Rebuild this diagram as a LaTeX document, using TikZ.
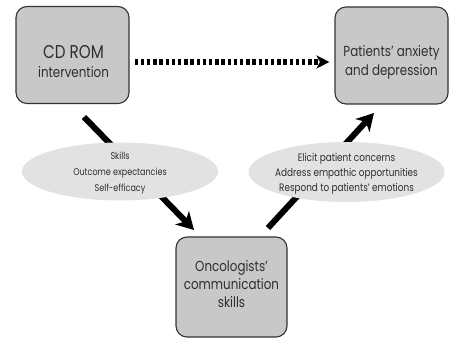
\documentclass[tikz,border=0pt]{standalone}
\usepackage{fontspec}
\setmainfont{Poppins}[FakeStretch=0.82]
\usetikzlibrary{arrows.meta,shapes.geometric,calc}
\definecolor{boxfill}{HTML}{C8C8C8}
\definecolor{ellfill}{HTML}{E2E2E2}
\definecolor{txt}{HTML}{2E2E2E}
\begin{document}
\begin{tikzpicture}[x=1pt,y=-1pt,
  boxnode/.style={draw=black!80,line width=1.1pt,fill=boxfill,rounded corners=11pt,
    minimum width=113pt,minimum height=97pt,inner sep=0pt},
  boxtext/.style={align=center,text=txt,inner sep=0pt},
  ellnode/.style={ellipse,fill=ellfill,minimum width=196pt,minimum height=58pt,
    inner sep=0pt},
  elltext/.style={align=center,text=txt,inner sep=0pt},
  bigarrow/.style={line width=6pt,-{Stealth[length=17pt,width=19pt,inset=5pt]}},
  dotarrow/.style={line width=5.5pt,dash pattern=on 3.5pt off 2.7pt,
    -{Stealth[length=13pt,width=13pt,inset=3.5pt]}}]
\useasboundingbox (0,0) rectangle (452,339);
\fill[white] (0,0) rectangle (452,339);
% boxes
\node[boxnode] (cd) at (72.5,55) {};
\node[boxtext,font=\fontsize{14.5}{19}\selectfont] (cdt) at ($(cd)+(1,6.5)$) {\fontsize{18.5}{19}\selectfont CD ROM\\intervention};
\node[boxnode] (pat) at (391.5,55.5) {};
\node[boxtext,font=\fontsize{14.5}{19}\selectfont] (patt) at ($(pat)+(0,6.5)$) {Patients' anxiety\\and depression};
\node[boxnode,minimum width=111pt,minimum height=100pt] (onc) at (231.5,287) {};
\node[boxtext,font=\fontsize{14.5}{18}\selectfont] (onct) at ($(onc)+(0,-3)$) {Oncologists'\\communication\\skills};
% connector end points
\coordinate (l1) at (84,117);
\coordinate (l2) at (194,230);
\coordinate (r1) at (268,228);
\coordinate (r2) at (374,113);
\coordinate (d1) at ($(cd.east)+(5,7)$);
\coordinate (d2) at ($(pat.west)+(-5,6.5)$);
% connectors
\draw[dotarrow] (d1) -- (d2);
\draw[bigarrow] (l1) -- (l2);
\draw[bigarrow] (r1) -- (r2);
% ellipses on top
\node[ellnode] (e1) at (120,171.5) {};
\node[elltext,font=\fontsize{9.8}{16}\selectfont] (e1t) at ($(e1)+(0,1.5)$) {Skills\\Outcome expectancies\\Self-efficacy};
\node[ellnode,minimum height=60pt] (e2) at (346.5,172) {};
\node[elltext,font=\fontsize{10.8}{15}\selectfont] (e2t) at ($(e2)+(0,1.5)$) {Elicit patient concerns\\Address empathic opportunities\\Respond to patients' emotions};
\end{tikzpicture}
\end{document}
